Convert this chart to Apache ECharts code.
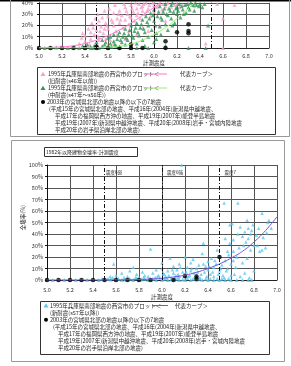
<!DOCTYPE html>
<html><head><meta charset="utf-8">
<script src="https://cdn.jsdelivr.net/npm/echarts/dist/echarts.min.js"></script>
<style>html,body{margin:0;padding:0;background:#fff;}#c{width:291px;height:366px;}</style>
</head><body><div id="c"></div>
<script>
// ---------- data ----------
const xTickMin = 5.0, xTickMax = 7.0, xTickStep = 0.2;
const zoneX = [5.5, 6.0, 6.5];
const zoneLabels = ['震度6弱', '震度6強', '震度7'];

// top panel (pre-1982 buildings), values in %
const topPink = [[5.3,1],[5.35,4],[5.37,9],[5.4,11],[5.4,6],[5.42,2],[5.45,14],[5.45,8],[5.47,18],[5.48,12],[5.5,21],[5.5,16],[5.5,5],[5.52,24],[5.52,10],[5.54,19],[5.55,27],[5.56,13],[5.58,8],[5.58,22],[5.6,17],[5.6,28],[5.62,11],[5.63,25],[5.65,20],[5.65,31],[5.67,15],[5.68,26],[5.7,22],[5.7,33],[5.72,29],[5.73,18],[5.75,25],[5.75,36],[5.77,30],[5.78,21],[5.8,27],[5.8,38],[5.82,32],[5.83,24],[5.85,35],[5.85,29],[5.87,39],[5.88,26],[5.9,33],[5.9,37],[5.92,30],[5.93,40],[5.95,35],[5.97,28],[6.0,38],[6.0,32],[6.02,36],[6.05,39],[6.07,34],[6.1,37],[6.12,40],[6.15,36],[6.2,39],[6.25,38],[6.3,39],[6.35,37],[6.45,4],[6.6,26],[6.6,0],[6.7,38],[6.55,39],[5.55,2],[5.65,4],[5.75,8],[5.85,12],[5.95,15],[6.05,20],[6.1,24],
  [5.38,13],[5.43,17],[5.46,22],[5.49,26],[5.51,30],[5.53,15],[5.57,33],[5.59,20],[5.61,35],[5.64,23],[5.66,38],[5.69,30],[5.71,25],[5.74,39],[5.76,33],[5.79,28],[5.81,35],[5.84,40],[5.86,31],[5.89,36],[5.91,39],[5.94,33],[5.96,38],[5.99,40],[6.03,37],[6.08,39],[6.18,38],[6.22,36],[5.44,3],[5.52,7],[5.62,7],[5.68,12],[5.78,15],[5.9,18],[5.5,11],[5.57,17]];
const topGreen = [[5.0,0],[5.05,0],[5.1,0],[5.15,0.5],[5.2,0],[5.25,0],[5.3,0.5],[5.35,0],[5.38,2],[5.4,0],[5.42,3],[5.45,1],[5.47,0],[5.5,2],[5.5,5],[5.52,0],[5.55,1],[5.55,7],[5.57,3],[5.6,0],[5.6,9],[5.62,4],[5.63,1],[5.65,6],[5.65,12],[5.67,2],[5.68,8],[5.7,0],[5.7,14],[5.72,5],[5.73,10],[5.75,3],[5.75,17],[5.77,7],[5.78,12],[5.8,1],[5.8,20],[5.82,9],[5.83,15],[5.85,4],[5.85,22],[5.87,11],[5.88,18],[5.9,7],[5.9,25],[5.92,14],[5.93,28],[5.95,10],[5.95,20],[5.97,31],[5.98,16],[6.0,5],[6.0,24],[6.0,34],[6.02,13],[6.03,28],[6.05,19],[6.05,37],[6.07,25],[6.08,32],[6.1,21],[6.1,39],[6.12,29],[6.13,35],[6.15,26],[6.15,38],[6.17,32],[6.18,22],[6.2,36],[6.2,30],[6.22,39],[6.23,27],[6.25,34],[6.27,38],[6.28,31],[6.3,36],[6.32,40],[6.35,33],[6.37,38],[6.4,39],[6.42,36],[6.47,20],[6.45,0],[6.3,0],[6.1,2],[5.95,0],[5.85,0],
  [5.45,0],[5.48,2],[5.58,5],[5.62,10],[5.66,3],[5.69,11],[5.71,7],[5.74,13],[5.76,9],[5.79,16],[5.81,11],[5.84,18],[5.86,14],[5.89,21],[5.91,17],[5.94,23],[5.96,26],[5.99,29],[6.01,20],[6.04,32],[6.06,27],[6.09,35],[6.11,30],[6.14,33],[6.16,40],[6.19,35],[6.21,33],[6.24,37],[6.26,30],[6.29,39],[6.31,34],[6.34,38],[6.36,40],[6.39,37],[6.44,39],[5.92,2],[6.02,8],[6.06,12],[6.12,16],[6.16,20],[5.6,1.5],[5.7,1],[5.8,0]];
const topBlack = [[5.0,0],[5.1,0],[5.2,0],[5.3,0],[5.4,0],[5.5,0],[5.5,1],[5.6,0],[5.7,0],[5.8,0],[5.8,3],[5.9,0],[6.1,0],[6.1,6],[6.2,14],[6.3,21],[6.3,15],[6.3,13]];
const topPinkCurve = [[5.0,0.2],[5.2,1],[5.3,2],[5.4,4],[5.5,7],[5.6,11],[5.7,16],[5.8,22],[5.9,29],[6.0,36],[6.1,44]];
const topGreenCurve = [[5.0,0],[5.4,0.2],[5.6,0.8],[5.7,1.5],[5.8,3.5],[5.9,7],[6.0,12],[6.1,18],[6.2,26],[6.3,35],[6.4,45]];

// bottom panel (1982 and later)
const botBlueBase = [[5.0,0],[5.05,0],[5.1,0],[5.15,0],[5.2,0],[5.25,0],[5.3,0],[5.35,0],[5.4,0],[5.45,0],[5.48,1],[5.5,0],[5.53,1],[5.55,0.5],[5.57,2],[5.6,0],[5.62,1],[5.65,0],[5.67,2],[5.68,0.5],[5.7,0],[5.72,1],[5.75,0],[5.77,2],[5.78,1.5],[5.8,0],[5.82,0.5],[5.84,2],[5.85,1],[5.88,0],[5.9,0.5],[5.92,1],[5.94,2],[5.95,0],[5.98,2],[6.0,0],[6.02,1],[6.04,2],[6.05,0],[6.08,0.5],[6.1,0],[6.12,1],[6.14,2],[6.15,0],[6.18,0.5],[6.2,0],[6.22,1.5],[6.25,0],[6.27,1],[6.3,0],[6.33,1],[6.35,0],[6.38,1],[6.4,0],[6.42,1],[6.45,0],[6.48,1],[6.5,0],[6.52,1],[6.55,0],[6.58,1],[6.6,0],[6.65,0],[6.7,0],[6.75,0],[6.78,0]];
const botBlue = [[5.55,3],[5.58,14],[5.6,4],[5.65,6],[5.7,3],[5.72,8],[5.75,11],[5.78,5],[5.8,2],[5.83,7],[5.85,4],[5.88,3],[5.9,27],[5.92,6],[5.95,9],[5.97,4],[6.0,10],[6.0,15],[6.02,5],[6.03,3],[6.05,8],[6.07,19],[6.08,2],[6.1,12],[6.1,6],[6.12,4],[6.13,9],[6.15,3],[6.15,14],[6.17,100],[6.18,7],[6.2,5],[6.2,20],[6.22,11],[6.23,3],[6.25,8],[6.25,15],[6.27,18],[6.28,6],[6.3,4],[6.3,10],[6.32,13],[6.33,2],[6.35,23],[6.36,32],[6.37,7],[6.38,12],[6.4,9],[6.4,16],[6.42,5],[6.43,19],[6.45,11],[6.45,3],[6.47,14],[6.48,26],[6.5,8],[6.5,20],[6.52,13],[6.53,4],[6.54,67],[6.55,36],[6.55,17],[6.57,10],[6.58,22],[6.59,32],[6.59,48],[6.6,14],[6.61,49],[6.62,35],[6.62,25],[6.63,5],[6.65,20],[6.66,67],[6.67,28],[6.68,46],[6.7,38],[6.7,15],[6.72,42],[6.73,33],[6.74,19],[6.75,45],[6.75,36],[6.77,26],[6.77,40],[6.78,43],[6.8,30],[6.8,8],[6.82,39],[6.83,30],[6.85,25],[6.87,58],[6.87,26],[6.88,37],[6.9,28],[6.91,41],[6.92,50],[6.93,52],[6.95,45],
  [5.96,3],[6.01,6],[6.06,4],[6.09,9],[6.11,2],[6.14,5],[6.16,11],[6.19,3],[6.21,7],[6.24,4],[6.26,10],[6.29,2],[6.31,7],[6.34,5],[6.36,14],[6.39,3],[6.41,12],[6.44,7],[6.46,17],[6.49,5],[6.51,10],[6.54,2],[6.56,8],[6.6,4],[6.64,11],[6.68,3],[6.72,6],[6.76,2],[6.62,17],[6.57,25],[6.71,30],[6.66,40],[6.79,48],[6.84,45],[6.74,52]];
const botBlack = [[5.0,0],[5.1,0],[5.2,0],[5.3,0],[5.4,0],[5.5,0],[5.6,0],[5.7,0],[5.8,0],[5.9,0],[6.1,0],[6.2,3.5],[6.3,3],[6.3,1],[6.5,20]];
const botCurve = [[5.0,0],[5.4,0],[5.6,0.1],[5.8,0.4],[5.9,0.8],[6.0,1.5],[6.1,2.6],[6.2,4.2],[6.3,6.7],[6.4,10],[6.5,14],[6.6,19],[6.7,25],[6.8,33],[6.9,43],[7.0,55]];

// legend texts
const plotText = '1995年兵庫県南部地震の西宮市のプロット＜';
const curveText = '代表カーブ＞';
const topLegendLines = ['(旧耐震(s46年以前))', '(中耐震(s47年～s56年))'];
const quakeLines = [
  '2003年の宮城県北部の地震以降の以下の7地震',
  '(平成15年の宮城県北部の地震、平成16年(2004年)新潟県中越地震、',
  '平成17年の福岡県西方沖の地震、平成19年(2007年)能登半島地震',
  '平成19年(2007年)新潟県中越沖地震、平成20年(2008年)岩手・宮城内陸地震',
  '平成20年の岩手県沿岸北部の地震)'
];
const botLegendLine = '(新耐震(s57年以降))';
const botTitle = '1982年以降建物全壊率-計測震度';
const xName = '計測震度';
const yName = '全壊率(%)';

// ---------- chart ----------
const FONT = '"Noto Sans CJK JP", "Noto Sans", sans-serif';
const PINK = '#f3a0cc', GREEN = '#2e9656', BLUE = '#5cc6ef';
const PINKL = '#ff77cc', GREENL = '#99ee77', PURPLE = '#7755dd';
const chart = echarts.init(document.getElementById('c'), null, {renderer: 'canvas'});

function xAx(gi, margin, gap) {
  return {gridIndex: gi, type: 'value', min: xTickMin, max: xTickMax, interval: xTickStep,
    axisLine: {show: true, onZero: false, lineStyle: {color: '#222', width: 1}},
    axisTick: {show: false},
    axisLabel: {fontSize: 5.5, color: '#333', margin: margin, fontFamily: FONT, formatter: v => v.toFixed(1)},
    splitLine: {show: true, lineStyle: {color: '#555', width: 1}},
    name: xName, nameLocation: 'middle', nameGap: gap,
    nameTextStyle: {fontSize: 5.5, color: '#222', fontFamily: FONT}};
}
function yAx(gi, max, margin) {
  return {gridIndex: gi, type: 'value', position: 'left', min: 0, max: max, interval: 10,
    axisLine: {show: true, onZero: false, lineStyle: {color: '#111', width: 1}},
    axisTick: {show: true, length: 2, lineStyle: {color: '#111'}},
    axisLabel: {fontSize: 5.5, color: '#333', margin: margin, fontFamily: FONT, formatter: '{value}%'},
    splitLine: {show: true, lineStyle: {color: '#555', width: 1}}};
}
const dashLine = {silent: true, symbol: 'none', label: {show: false},
  lineStyle: {color: '#111', width: 1, type: [4, 2, 1, 2]},
  data: zoneX.map(v => ({xAxis: v}))};

chart.setOption({
  animation: false,
  backgroundColor: '#fff',
  grid: [
    {left: 39, top: 1, width: 230, height: 47},
    {left: 47, top: 165, width: 230, height: 115}
  ],
  xAxis: [xAx(0, 5.5, 12.5), xAx(1, 7.5, 13.5)],
  yAxis: [yAx(0, 40, 6), yAx(1, 100, 4)],
  series: [
    {type: 'scatter', xAxisIndex: 0, yAxisIndex: 0, data: topPink, symbol: 'triangle', symbolSize: 4, itemStyle: {color: PINK}, markLine: dashLine},
    {type: 'scatter', xAxisIndex: 0, yAxisIndex: 0, data: topGreen, symbol: 'triangle', symbolSize: 4, itemStyle: {color: GREEN}},
    {type: 'line', xAxisIndex: 0, yAxisIndex: 0, data: topPinkCurve, smooth: true, showSymbol: false, lineStyle: {color: PINKL, width: 1}},
    {type: 'line', xAxisIndex: 0, yAxisIndex: 0, data: topGreenCurve, smooth: true, showSymbol: false, lineStyle: {color: GREENL, width: 1}},
    {type: 'scatter', xAxisIndex: 0, yAxisIndex: 0, data: topBlack, symbol: 'circle', symbolSize: 4.5, itemStyle: {color: '#000'}},
    {type: 'scatter', xAxisIndex: 1, yAxisIndex: 1, data: botBlueBase, symbol: 'triangle', symbolSize: 4, itemStyle: {color: BLUE}, markLine: dashLine},
    {type: 'scatter', xAxisIndex: 1, yAxisIndex: 1, data: botBlue, symbol: 'triangle', symbolSize: 3.5, itemStyle: {color: BLUE}},
    {type: 'line', xAxisIndex: 1, yAxisIndex: 1, data: botCurve, smooth: true, showSymbol: false, lineStyle: {color: PURPLE, width: 1}},
    {type: 'scatter', xAxisIndex: 1, yAxisIndex: 1, data: botBlack, symbol: 'circle', symbolSize: 4.5, itemStyle: {color: '#000'}}
  ]
});

// ---------- graphics (frames, legends, labels) ----------
const g = [];
function T(x, y, s, opt, rot) {
  g.push({type: 'text', x: x, y: y, rotation: rot || 0, z: 50, style: Object.assign({text: s, fill: '#222', fontSize: 5.5, fontFamily: FONT, verticalAlign: 'middle', align: 'left'}, opt || {})});
}
function R(x, y, w, h, stroke, fill) {
  g.push({type: 'rect', z: 40, shape: {x: x, y: y, width: w, height: h}, style: {fill: fill || 'none', stroke: stroke || 'none', lineWidth: 1}});
}
function L(x1, x2, y, c) {
  g.push({type: 'line', z: 50, shape: {x1: x1, y1: y, x2: x2, y2: y}, style: {stroke: c, lineWidth: 1}});
}
function Tri(x, y, c) {
  g.push({type: 'polygon', z: 50, shape: {points: [[x, y - 2.2], [x - 2.5, y + 2], [x + 2.5, y + 2]]}, style: {fill: c}});
}
function Dot(x, y) {
  g.push({type: 'circle', z: 50, shape: {cx: x, cy: y, r: 2}, style: {fill: '#000'}});
}
// frames
R(0, 0, 291, 1.5, null, '#000');
R(10.5, -2, 279, 138.5, '#999');
R(11.5, 140.5, 273, 221, '#999');
// top legend
R(37.5, 67.5, 238, 67, '#333');
const ty = i => 74 + 7 * i;
Tri(43, ty(0), PINK); T(48, ty(0), plotText); L(145, 167, ty(0), PINKL); T(180, ty(0), curveText);
T(48, ty(1), topLegendLines[0]);
Tri(43, ty(2), GREEN); T(48, ty(2), plotText); L(145, 167, ty(2), GREENL); T(180, ty(2), curveText);
T(48, ty(3), topLegendLines[1]);
Dot(43, ty(4)); T(47, ty(4), quakeLines[0]);
T(49, ty(5), quakeLines[1]);
T(55, ty(6), quakeLines[2]);
T(55, ty(7), quakeLines[3]);
T(55, ty(8), quakeLines[4]);
// bottom title box
R(44.5, 147.5, 93, 9, '#333', '#fff');
T(46, 152, botTitle, {fontSize: 5});
// bottom y axis name (vertical, reading upward)
const mid = chart.convertToPixel({gridIndex: 1}, [5.0, 50]);
T(23, mid[1] - 5, yName, {align: 'center', fontSize: 5.5}, Math.PI / 2);
// bottom legend
R(40.5, 301.5, 229, 53, '#333');
const by = i => 305.5 + 7.1 * i;
Tri(46, by(0), BLUE); T(50, by(0), plotText); L(152, 168, by(0), PURPLE); T(175, by(0), curveText);
T(50, by(1), botLegendLine);
Dot(46, by(2)); T(50, by(2), quakeLines[0]);
T(53, by(3), quakeLines[1]);
T(58, by(4), quakeLines[2]);
T(58, by(5), quakeLines[3]);
T(58, by(6), quakeLines[4]);
// zone labels on bottom chart
const zoneOff = [1.5, 5, 5];
zoneX.forEach((v, i) => {
  const p = chart.convertToPixel({gridIndex: 1}, [v, 100]);
  T(p[0] + zoneOff[i], p[1] + 7, zoneLabels[i], {fontSize: 4.5});
});
chart.setOption({graphic: g});
</script>
</body></html>
